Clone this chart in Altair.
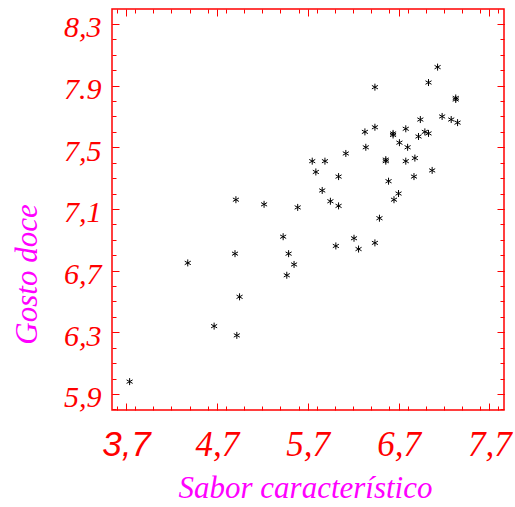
import json
import altair as alt
import pandas as pd

# ---- data ----
sabor = [7.13, 7.03, 6.44, 7.33, 7.33, 7.18, 7.28, 7.35, 6.94, 6.78,
         6.44, 6.33, 6.64, 6.64, 6.99, 7.03, 6.92, 6.71, 6.80, 6.34,
         6.12, 5.75, 5.89, 6.56, 6.56, 6.78, 6.88, 5.79, 6.04, 7.07,
         6.87, 6.59, 5.86, 6.70, 6.65, 5.95, 6.04, 4.91, 5.22, 5.59,
         6.49, 5.43, 6.01, 6.21, 6.26, 6.44, 4.90, 5.49, 5.55, 4.38,
         5.47, 4.95, 4.67, 4.92, 3.74]
gosto = [8.02, 7.92, 7.89, 7.81, 7.82, 7.70, 7.68, 7.66, 7.68, 7.62,
         7.63, 7.60, 7.59, 7.58, 7.60, 7.59, 7.57, 7.53, 7.50, 7.50,
         7.46, 7.41, 7.41, 7.41, 7.42, 7.41, 7.43, 7.34, 7.31, 7.35,
         7.31, 7.28, 7.22, 7.20, 7.16, 7.15, 7.12, 7.16, 7.13, 7.11,
         7.04, 6.92, 6.86, 6.91, 6.84, 6.88, 6.81, 6.81, 6.74, 6.75,
         6.67, 6.53, 6.34, 6.28, 5.98]

x_ticks = [3.7, 4.7, 5.7, 6.7, 7.7]
x_labels = ["3,7", "4,7", "5,7", "6,7", "7,7"]
x_minor = [3.6, 3.8, 4.0, 4.2, 4.4, 4.6, 4.8, 5.0, 5.2, 5.4, 5.6, 5.8, 6.0,
           6.2, 6.4, 6.6, 6.8, 7.0, 7.2, 7.4, 7.6, 7.8]
y_ticks = [5.9, 6.3, 6.7, 7.1, 7.5, 7.9, 8.3]
y_labels = ["5,9", "6,3", "6,7", "7,1", "7,5", "7.9", "8,3"]
y_minor = [5.8, 5.9, 6.0, 6.1, 6.2, 6.3, 6.4, 6.5, 6.6, 6.7, 6.8, 6.9, 7.0,
           7.1, 7.2, 7.3, 7.4, 7.5, 7.6, 7.7, 7.8, 7.9, 8.0, 8.1, 8.2, 8.3]

x_domain = [3.546, 7.861]
y_domain = [5.796, 8.397]

W, H = 392, 401
RED = "#ff0000"
MAG = "#ff00ff"
FONT = "Liberation Serif"
SANS = "Liberation Sans"

df = pd.DataFrame({"sabor": sabor, "gosto": gosto})

x_expr = json.dumps(x_labels) + "[round((datum.value - 3.7) / 1.0)]"
y_expr = json.dumps(y_labels) + "[round((datum.value - 5.9) / 0.4)]"

xs = alt.Scale(domain=x_domain, nice=False, zero=False)
ys = alt.Scale(domain=y_domain, nice=False, zero=False)

asterisk = "M0,-1L0,1M-0.866,-0.5L0.866,0.5M-0.866,0.5L0.866,-0.5"

base = alt.Chart(df)

points = base.mark_point(
    shape=asterisk, filled=False, color="black", strokeWidth=1, size=49, opacity=1
).encode(
    x=alt.X("sabor:Q", scale=xs, axis=alt.Axis(
        orient="bottom", values=x_ticks, labelExpr=x_expr, ticks=False, domain=False,
        grid=False,
        labelFont={"condition": {"test": "datum.value < 4", "value": SANS}, "value": FONT},
        labelFontStyle="italic", labelFontSize=35, labelFontWeight="normal",
        labelColor=RED, labelBaseline="alphabetic", labelPadding=45, labelFlush=False,
        labelOverlap=False,
        title="Sabor característico", titleFont=FONT, titleFontStyle="italic",
        titleFontWeight="normal", titleFontSize=31, titleColor=MAG,
        titleX=193, titleY=87, titleAlign="center", titleBaseline="alphabetic")),
    y=alt.Y("gosto:Q", scale=ys, axis=alt.Axis(
        orient="left", values=y_ticks, labelExpr=y_expr, ticks=False, domain=False,
        grid=False, labelFont=FONT, labelFontStyle="italic", labelFontSize=30,
        labelColor=RED, labelBaseline="alphabetic", labelOffset=13, labelPadding=11,
        labelFlush=False, labelOverlap=False,
        title="Gosto doce", titleFont=FONT, titleFontStyle="italic",
        titleFontWeight="normal", titleFontSize=31, titleColor=MAG,
        titleAngle=270, titleX=-76, titleY=265, titleAlign="center",
        titleBaseline="alphabetic")),
)


def tick_layer(xorient, xoff, yorient, yoff, xvals, yvals, size):
    return base.mark_point(opacity=0).encode(
        x=alt.X("sabor:Q", scale=xs, axis=alt.Axis(
            orient=xorient, offset=xoff, values=xvals, labels=False, domain=False,
            grid=False, ticks=True, tickSize=size, tickColor=RED, tickWidth=1,
            title=None)),
        y=alt.Y("gosto:Q", scale=ys, axis=alt.Axis(
            orient=yorient, offset=yoff, values=yvals, labels=False, domain=False,
            grid=False, ticks=True, tickSize=size, tickColor=RED, tickWidth=1,
            title=None)),
    )


layers = [
    points,
    # bottom & left edges, ticks pointing inward
    tick_layer("top", -H, "right", -W, x_ticks, y_ticks, 7),
    tick_layer("top", -H, "right", -W, x_minor, y_minor, 4),
    # top & right edges, ticks pointing inward
    tick_layer("bottom", -H, "left", -W, x_ticks, y_ticks, 7),
    tick_layer("bottom", -H, "left", -W, x_minor, y_minor, 4),
]

chart = alt.layer(*layers).resolve_scale(
    x="shared", y="shared"
).resolve_axis(
    x="independent", y="independent"
).properties(
    width=W, height=H,
    autosize=alt.AutoSizeParams(type="none"),
    padding={"left": 112, "top": 9, "right": 11, "bottom": 97},
    background="white",
).configure_view(
    stroke=RED, strokeWidth=1.5
)

chart.save("out.html", embed_options={"renderer": "svg", "actions": False})
